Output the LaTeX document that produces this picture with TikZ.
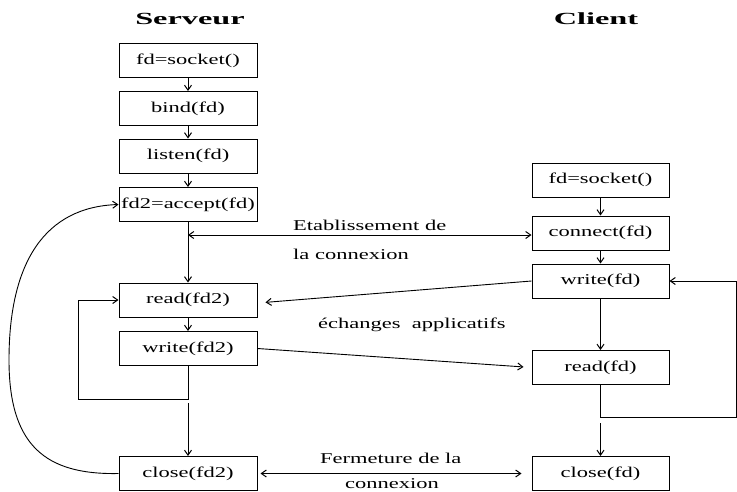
\documentclass[tikz,border=0pt]{standalone}
\usepackage{fontspec}
\setmainfont[FakeStretch=1.5]{Liberation Serif}
\newfontfamily\titlefont[FakeStretch=1.9]{Liberation Serif}
\usetikzlibrary{arrows.meta,calc}
\begin{document}
\begin{tikzpicture}[x=1pt,y=-1pt,
  box/.style={draw, line width=1pt, minimum width=138pt, minimum height=34pt, inner sep=0pt, font=\fontsize{15}{18}\selectfont},
  lbl/.style={font=\fontsize{15}{18}\selectfont, inner sep=0pt},
  ttl/.style={font=\titlefont\bfseries\fontsize{17}{20}\selectfont, inner sep=0pt},
  tip/.tip={Straight Barb[length=5pt,width=7pt,line width=1pt]},
  link/.style={line width=0.9pt, -tip},
  dlink/.style={line width=0.9pt, tip-tip},
  plain/.style={line width=0.9pt}]
\useasboundingbox (0,0) rectangle (737,491);

% titles
\node[ttl, anchor=base] (tS) at (190,24) {Serveur};
\node[ttl, anchor=base] (tC) at (596,24) {Client};

% server
\node[box] (s1) at (188,60.5) {fd=socket()};
\node[box] (s2) at (188,108.5) {bind(fd)};
\node[box] (s3) at (188,156) {listen(fd)};
\node[box] (s4) at (188,204.5) {fd2=accept(fd)};
\node[box] (s5) at (188,300) {read(fd2)};
\node[box] (s6) at (188,348.5) {write(fd2)};
\node[box] (s7) at (188,473.5) {close(fd2)};

% client
\node[box, minimum width=137pt] (c1) at (600.5,180) {fd=socket()};
\node[box, minimum width=137pt] (c2) at (600.5,233) {connect(fd)};
\node[box, minimum width=137pt] (c3) at (600.5,281) {write(fd)};
\node[box, minimum width=137pt] (c4) at (600.5,367.5) {read(fd)};
\node[box, minimum width=137pt] (c5) at (600.5,473.5) {close(fd)};

% server chain
\draw[link] (s1) -- (s2);
\draw[link] (s2) -- (s3);
\draw[link] (s3) -- (s4);
\draw[link] (s4) -- (s5);
\draw[link] (s5) -- (s6);
\coordinate (sl1) at (188,399);
\coordinate (sl2) at (78,399);
\coordinate (sl3) at (78,300);
\draw[link] (s6.south) -- (sl1) -- (sl2) -- (sl3) -- (s5.west);
\coordinate (sd) at (188,403);
\draw[link] (sd) -- (s7.north);

% big return curve
\draw[link] (s7.west) .. controls (45,475) and (9,445) .. (9,360)
  .. controls (9,262) and (45,207) .. (s4.west);

% client chain
\draw[link] (c1) -- (c2);
\draw[link] (c2) -- (c3);
\draw[link] (c3) -- (c4);
\coordinate (cl1) at (600.5,417);
\coordinate (cl2) at (736,417);
\coordinate (cl3) at (736,281);
\draw[link] (c4.south) -- (cl1) -- (cl2) -- (cl3) -- (c3.east);
\coordinate (cd) at (600.5,423);
\draw[link] (cd) -- (c5.north);

% connection establishment
\coordinate (e1) at (188,235);
\draw[dlink] (e1) -- (e1 -| c2.west);
\node[lbl, anchor=base west] (le1) at (293,230) {Etablissement de};
\node[lbl, anchor=base west] (le2) at (293,259) {la connexion};

% exchanges
\draw[link, shorten >=8pt] (c3.west) -- ($(s5.east)+(0,3)$);
\draw[link, shorten >=8pt] (s6.east) -- (c4.west);
\node[lbl, anchor=base west] (lx) at (318,328) {échanges\ \ applicatifs};

% closing
\draw[dlink, shorten <=3pt, shorten >=10pt] (s7.east) -- (c5.west);
\node[lbl, anchor=base west] (lf1) at (320,463) {Fermeture de la};
\node[lbl, anchor=base west] (lf2) at (345,488) {connexion};
\end{tikzpicture}
\end{document}
